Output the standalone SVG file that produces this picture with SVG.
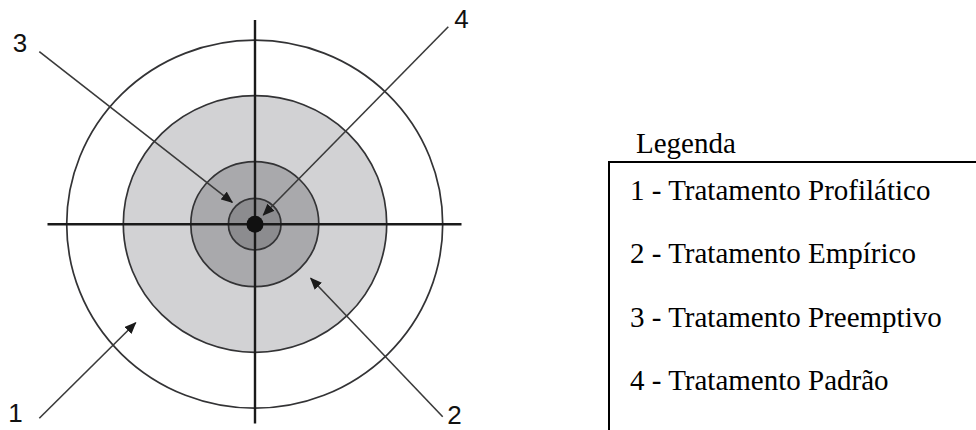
<svg xmlns="http://www.w3.org/2000/svg" width="976" height="430" viewBox="0 0 976 430">
  <style>
    .ring { stroke: #333335; stroke-width: 1.7; }
    .axis { stroke: #1a1a1a; stroke-width: 2.4; }
    .arrow { stroke: #3a3a3a; stroke-width: 1.6; fill: none; marker-end: url(#head); }
    .num { font-family: "Liberation Sans", Arial, sans-serif; font-size: 26px; fill: #111; text-anchor: middle; }
    .leg { font-family: "Liberation Serif", "Times New Roman", serif; font-size: 29px; fill: #000; }
    .box { stroke: #000; stroke-width: 2; fill: none; }
  </style>
  <defs>
    <marker id="head" viewBox="0 0 12 10" refX="11" refY="5" markerWidth="12" markerHeight="10" markerUnits="userSpaceOnUse" orient="auto">
      <path d="M0,0 L12,5 L0,10 Z" fill="#1a1a1a"/>
    </marker>
  </defs>
  <rect width="976" height="430" fill="#fff"/>

  <g id="target">
    <g id="zone-1"><ellipse class="ring" cx="254.7" cy="224.2" rx="188" ry="184" fill="#fff"/></g>
    <g id="zone-2"><ellipse class="ring" cx="255" cy="224" rx="131.7" ry="128.3" fill="#d2d2d4"/></g>
    <g id="zone-3"><ellipse class="ring" cx="254.8" cy="224.2" rx="64" ry="62.5" fill="#a9a9ac"/></g>
    <g id="zone-4"><ellipse class="ring" cx="254.7" cy="224.2" rx="26.3" ry="25.8" fill="#8c8c8f"/></g>
    <g id="axes">
      <line class="axis" x1="47.5" y1="224.3" x2="461.5" y2="224.3"/>
      <line class="axis" x1="255" y1="20" x2="255" y2="423.5"/>
    </g>
    <g id="bullseye"><circle cx="255" cy="224.3" r="8.5" fill="#111"/></g>
  </g>

  <g id="connectors">
    <line class="arrow" x1="39.3" y1="51.7" x2="232.3" y2="202.3"/>
    <line class="arrow" x1="448.3" y1="26.7" x2="263.3" y2="215"/>
    <line class="arrow" x1="39.3" y1="418.3" x2="135.7" y2="322.7"/>
    <line class="arrow" x1="442.7" y1="416.7" x2="310.7" y2="278.3"/>
  </g>

  <g id="labels">
    <text class="num" x="20" y="52.3">3</text>
    <text class="num" x="461.5" y="28.3">4</text>
    <text class="num" x="15.5" y="421.7">1</text>
    <text class="num" x="454.5" y="424">2</text>
  </g>

  <g id="legend">
    <text class="leg" x="636" y="153.3">Legenda</text>
    <path class="box" d="M609,430 L609,162 L976,162"/>
    <text class="leg" x="630" y="200">1 - Tratamento Profilático</text>
    <text class="leg" x="630" y="263.3">2 - Tratamento Empírico</text>
    <text class="leg" x="630" y="326.7">3 - Tratamento Preemptivo</text>
    <text class="leg" x="630" y="390">4 - Tratamento Padrão</text>
  </g>
</svg>
